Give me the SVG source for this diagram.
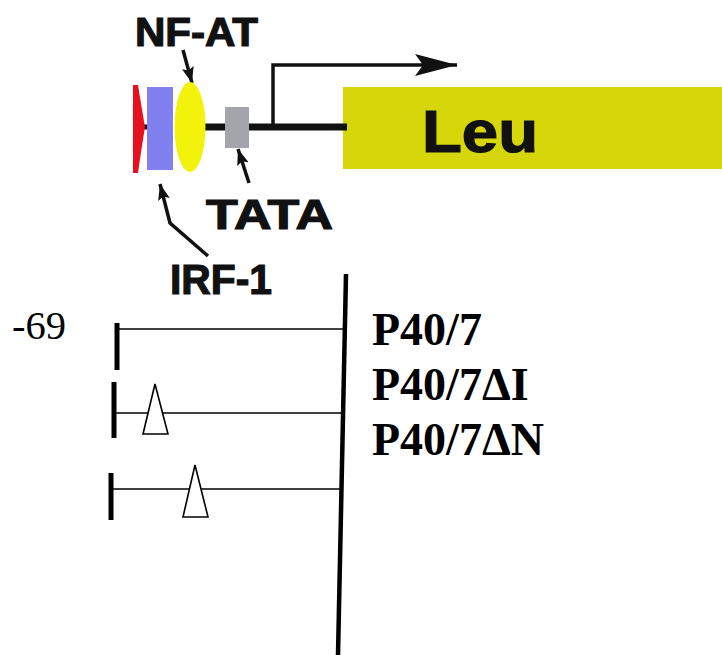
<svg xmlns="http://www.w3.org/2000/svg" width="722" height="655" viewBox="0 0 722 655">
<defs>
<style>
.lbl{font-family:"Liberation Sans",Arial,sans-serif;font-weight:bold;fill:#111;stroke:#111;stroke-width:1.2}
.tl{font-family:"Liberation Serif","Times New Roman",serif;fill:#000}
.thin{stroke:#000;stroke-width:1.6;fill:none}
.tick{stroke:#000;stroke-width:5;fill:none}
.tri{fill:#fff;stroke:#000;stroke-width:1.6}
.ptr{stroke:#111;stroke-width:3.5;fill:none}
</style>
<marker id="ah" markerWidth="16" markerHeight="12" refX="16" refY="6" orient="auto" markerUnits="userSpaceOnUse" viewBox="0 0 16 12">
<path d="M0,0 L16,6 L0,12 L3,6 Z" fill="#111"/>
</marker>
<marker id="bh" markerWidth="42" markerHeight="22" refX="42" refY="11" orient="auto" markerUnits="userSpaceOnUse" viewBox="0 0 42 22">
<path d="M0,0 L42,11 L0,22 L8,11 Z" fill="#111"/>
</marker>
</defs>
<rect width="722" height="655" fill="#fff"/>
<g id="gene">
<rect x="343" y="87" width="379" height="82" fill="#d6d60a"/>
<text class="lbl" x="422" y="152" font-size="60" textLength="116" lengthAdjust="spacingAndGlyphs" stroke-width="1.6">Leu</text>
</g>
<g id="connectors">
<line x1="200" y1="127" x2="347" y2="127" stroke="#111" stroke-width="7"/>
<line x1="136" y1="127" x2="150" y2="127" stroke="#111" stroke-width="5"/>
<path d="M273,128 V65 H457" stroke="#111" stroke-width="3.5" fill="none" marker-end="url(#bh)"/>
<path d="M183,50 L192,83" class="ptr" marker-end="url(#ah)"/>
<path d="M249,183 L238,149" class="ptr" marker-end="url(#ah)"/>
<path d="M208,256 L170,223 L160,184" class="ptr" marker-end="url(#ah)"/>
</g>
<g id="irf1-site">
<path d="M133,85 L138,85 Q142,110 145,127 Q142,145 138,173 L133,173 Z" fill="#e8101e"/>
</g>
<g id="blue-site">
<rect x="147" y="87" width="26" height="83" fill="#8080f0"/>
</g>
<g id="nfat-site">
<ellipse cx="190" cy="127" rx="15.5" ry="45" fill="#f2f20a"/>
</g>
<g id="tata-box">
<rect x="225" y="107" width="24" height="41" fill="#a4a4ac"/>
</g>
<g id="labels">
<text class="lbl" x="135" y="46" font-size="40" textLength="123" lengthAdjust="spacingAndGlyphs">NF-AT</text>
<text class="lbl" x="206" y="229" font-size="42" textLength="127" lengthAdjust="spacingAndGlyphs">TATA</text>
<text class="lbl" x="170" y="294" font-size="42" textLength="102" lengthAdjust="spacingAndGlyphs">IRF-1</text>
</g>
<g id="axis">
<line x1="346" y1="274" x2="338" y2="655" stroke="#000" stroke-width="4.5"/>
</g>
<g id="constructs">
<line class="tick" x1="117" y1="323" x2="117" y2="370"/>
<line class="thin" x1="117" y1="329" x2="343" y2="329"/>
<line class="tick" x1="114" y1="382" x2="114" y2="438"/>
<line class="thin" x1="114" y1="413" x2="342" y2="413"/>
<path class="tri" d="M155,384 L143,434 L168,434 Z"/>
<line class="tick" x1="111" y1="473" x2="111" y2="520"/>
<line class="thin" x1="111" y1="489" x2="340" y2="489"/>
<path class="tri" d="M195,465 L183,517 L208,517 Z"/>
</g>
<g id="construct-labels">
<text class="tl" x="12" y="339" font-size="40" textLength="54" lengthAdjust="spacingAndGlyphs">-69</text>
<text class="tl" x="372" y="345" font-size="46" font-weight="bold">P40/7</text>
<text class="tl" x="372" y="400" font-size="46" font-weight="bold">P40/7ΔI</text>
<text class="tl" x="372" y="455" font-size="46" font-weight="bold">P40/7ΔN</text>
</g>
</svg>
